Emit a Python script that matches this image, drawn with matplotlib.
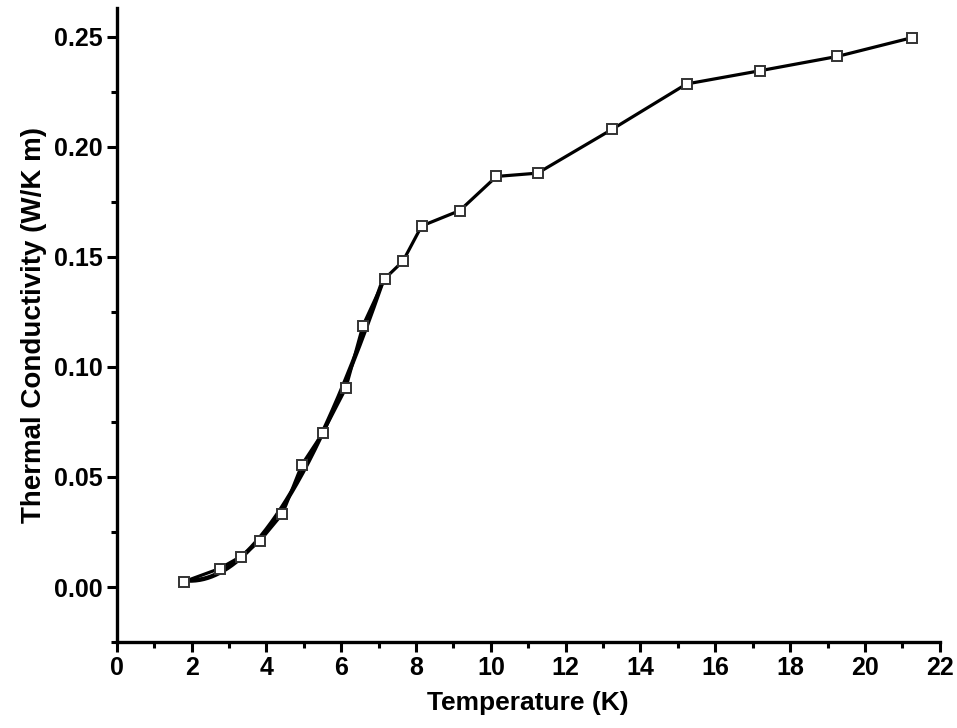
import numpy as np
import matplotlib
matplotlib.use("Agg")
import matplotlib.pyplot as plt
from matplotlib.ticker import MultipleLocator, FormatStrFormatter

# measured thermal conductivity vs temperature
temp_K = [1.79, 2.75, 3.31, 3.82, 4.43, 4.95, 5.50, 6.12, 6.58, 7.16,
          7.65, 8.15, 9.17, 10.15, 11.25, 13.25, 15.23, 17.19, 19.26, 21.25]
kappa = [0.0024, 0.0084, 0.0138, 0.0208, 0.0333, 0.0556, 0.0698, 0.0902, 0.1187, 0.1400,
         0.1480, 0.1640, 0.1710, 0.1865, 0.1880, 0.2080, 0.2285, 0.2345, 0.2410, 0.2495]

# low-temperature fit range (first points only)
n_fit = 10

plt.rcParams['font.family'] = ['Liberation Sans', 'DejaVu Sans']
plt.rcParams['font.weight'] = 'bold'

fig = plt.figure(figsize=(9.57, 7.28), dpi=100)
ax = fig.add_axes([0.122, 0.118, 0.860, 0.871])

# data line with open squares
ax.plot(temp_K, kappa, color='black', lw=2.3, marker='s', ms=7,
        mfc='white', mec='#333333', mew=1.4, zorder=3)

# smooth fit through the low-T points
coef = np.polyfit(temp_K[:n_fit], kappa[:n_fit], 3)
xf = np.linspace(temp_K[0], 7.1, 200)
ax.plot(xf, np.polyval(coef, xf), color='black', lw=3.2, zorder=2)

ax.set_xlim(0, 22)
ax.set_ylim(-0.025, 0.263)
ax.xaxis.set_major_locator(MultipleLocator(2))
ax.xaxis.set_minor_locator(MultipleLocator(1))
ax.yaxis.set_minor_locator(MultipleLocator(0.025))
ax.set_yticks([0.0, 0.05, 0.10, 0.15, 0.20, 0.25])
ax.yaxis.set_major_formatter(FormatStrFormatter('%.2f'))

for s in ['top', 'right']:
    ax.spines[s].set_visible(False)
for s in ['left', 'bottom']:
    ax.spines[s].set_linewidth(2.4)

ax.tick_params(which='major', direction='out', length=7, width=2.2, labelsize=18, pad=3)
ax.tick_params(which='minor', direction='out', length=4, width=2.2)

ax.set_xlabel('Temperature (K)', fontsize=19, fontweight='bold', labelpad=8)
ax.set_ylabel('Thermal Conductivity (W/K m)', fontsize=20, fontweight='bold', labelpad=5)

fig.savefig('out.png', dpi=100)
